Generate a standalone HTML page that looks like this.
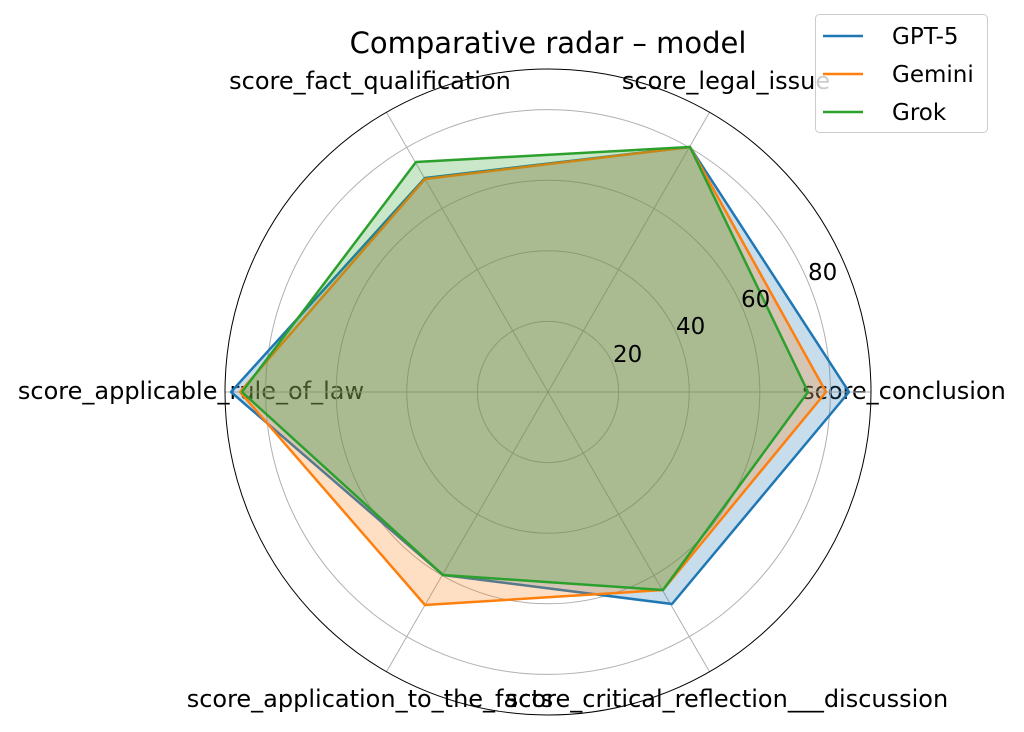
<!DOCTYPE html>
<html><head><style>body{margin:0;background:#fff}svg{display:block}</style></head><body>
<svg width="1024" height="732" viewBox="0 0 1024 732" xmlns="http://www.w3.org/2000/svg" font-family="'DejaVu Sans', 'Liberation Sans', sans-serif">
<rect width="1024" height="732" fill="#fff"/>
<g font-size="24" fill="#000" text-anchor="middle">
<text x="370" y="89">score_fact_qualification</text>
<text x="726" y="89">score_legal_issue</text>
<text x="904" y="399">score_conclusion</text>
<text x="191" y="399">score_applicable_rule_of_law</text>
<text x="370" y="707">score_application_to_the_facts</text>
<text x="727" y="707">score_critical_reflection___discussion</text>
</g>
<g fill="none" stroke="#b0b0b0" stroke-width="1">
<circle cx="548" cy="392" r="70.6"/><circle cx="548" cy="392" r="141.2"/><circle cx="548" cy="392" r="211.8"/><circle cx="548" cy="392" r="282.4"/>
<line x1="548" y1="392" x2="871" y2="392"/><line x1="548" y1="392" x2="709.5" y2="112.3"/><line x1="548" y1="392" x2="386.5" y2="112.3"/>
<line x1="548" y1="392" x2="225" y2="392"/><line x1="548" y1="392" x2="386.5" y2="671.7"/><line x1="548" y1="392" x2="709.5" y2="671.7"/>
</g>
<g stroke-width="2.5" stroke-linejoin="round">
<polygon points="849,392 690,147 425,178 231,392 443,575 672,604" fill="rgba(31,119,180,0.25)" stroke="#1f77b4"/>
<polygon points="826,392 690,147 425,179 240,392 425,605 663,590" fill="rgba(255,127,14,0.25)" stroke="#ff7f0e"/>
<polygon points="808,392 690,147 416,162 242,392 443,575 663,590" fill="rgba(44,160,44,0.25)" stroke="#2ca02c"/>
</g>
<circle cx="548" cy="392" r="323" fill="none" stroke="#000" stroke-width="1"/>
<g font-size="23" fill="#000">
<text x="613" y="362">20</text><text x="676" y="334">40</text><text x="741" y="307">60</text><text x="808" y="280">80</text>
</g>
<text x="548" y="53" font-size="29" text-anchor="middle">Comparative radar – model</text>
<rect x="815.5" y="14.5" width="172" height="118" rx="4" fill="rgba(255,255,255,0.8)" stroke="#ccc"/>
<g stroke-width="2.5"><line x1="823" y1="36" x2="863" y2="36" stroke="#1f77b4"/><line x1="823" y1="74" x2="863" y2="74" stroke="#ff7f0e"/><line x1="823" y1="112" x2="863" y2="112" stroke="#2ca02c"/></g>
<g font-size="23" fill="#000"><text x="892" y="44">GPT-5</text><text x="892" y="82">Gemini</text><text x="892" y="120">Grok</text></g>
</svg>
</body></html>
